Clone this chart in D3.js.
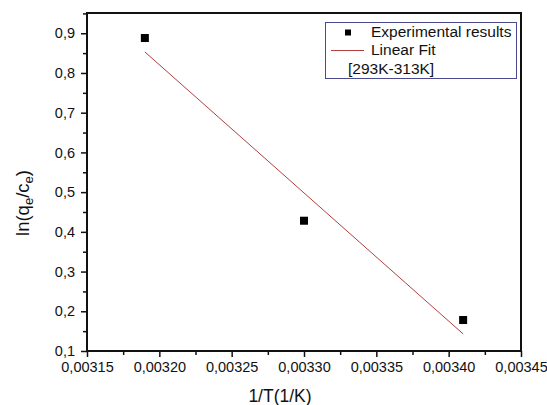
<!DOCTYPE html>
<html>
<head>
<meta charset="utf-8">
<script src="https://cdn.jsdelivr.net/npm/d3@7"></script>
<style>
  html, body { margin: 0; padding: 0; background: #fff; }
  svg { display: block; }
  text { font-family: "Liberation Sans", Arial, sans-serif; fill: #111; }
</style>
</head>
<body>
<svg id="chart" width="547" height="405"></svg>
<script>
// Inverse temperature (1/K) and ln(qe/ce) measured at 313 K, 303 K and 293 K
const invT = [0.00319, 0.00330, 0.00341];
const lnK = [0.888, 0.428, 0.178];

const xTicks = [0.00315, 0.00320, 0.00325, 0.00330, 0.00335, 0.00340, 0.00345];
const yTicks = [0.1, 0.2, 0.3, 0.4, 0.5, 0.6, 0.7, 0.8, 0.9];
const legendLabels = ["Experimental results", "Linear Fit", "[293K-313K]"];

const svg = d3.select("#chart");
const plotLeft = 87, plotRight = 521, plotTop = 13, plotBottom = 351;

const x = d3.scaleLinear().domain([0.00315, 0.00345]).range([plotLeft, plotRight]);
const y = d3.scaleLinear().domain([0.1, 0.951]).range([plotBottom, plotTop]);

const fmtX = d => d3.format(".5f")(d).replace(".", ",");
const fmtY = d => d3.format(".1f")(d).replace(".", ",");

// minor ticks halfway between the major ones
const xMinor = d3.pairs(xTicks).map(([a, b]) => (a + b) / 2);
const yMinor = d3.pairs(yTicks).map(([a, b]) => (a + b) / 2).concat([0.95]);

svg.append("g")
  .attr("transform", `translate(0,${plotBottom})`)
  .call(d3.axisBottom(x).tickValues(xMinor).tickSize(4).tickFormat(""))
  .call(g => g.select(".domain").remove())
  .call(g => g.selectAll("line").attr("stroke", "#111").attr("stroke-width", 1.5));

svg.append("g")
  .attr("transform", `translate(${plotLeft},0)`)
  .call(d3.axisLeft(y).tickValues(yMinor).tickSize(4).tickFormat(""))
  .call(g => g.select(".domain").remove())
  .call(g => g.selectAll("line").attr("stroke", "#111").attr("stroke-width", 1.5));

const xAxis = svg.append("g")
  .attr("transform", `translate(0,${plotBottom})`)
  .call(d3.axisBottom(x).tickValues(xTicks).tickSize(6).tickPadding(5).tickFormat(fmtX));
xAxis.select(".domain").remove();
xAxis.selectAll("line").attr("stroke", "#111").attr("stroke-width", 1.5);
xAxis.selectAll("text").attr("font-size", 14.5).attr("fill", "#111")
  .style("font-family", "'Liberation Sans', Arial, sans-serif");

const yAxis = svg.append("g")
  .attr("transform", `translate(${plotLeft},0)`)
  .call(d3.axisLeft(y).tickValues(yTicks).tickSize(6).tickPadding(6).tickFormat(fmtY));
yAxis.select(".domain").remove();
yAxis.selectAll("line").attr("stroke", "#111").attr("stroke-width", 1.5);
yAxis.selectAll("text").attr("font-size", 14.5).attr("fill", "#111")
  .style("font-family", "'Liberation Sans', Arial, sans-serif");

// plot frame
svg.append("rect")
  .attr("x", plotLeft).attr("y", plotTop)
  .attr("width", plotRight - plotLeft).attr("height", plotBottom - plotTop)
  .attr("fill", "none").attr("stroke", "#111").attr("stroke-width", 2);

// least-squares fit over the measured points
const mx = d3.mean(invT), my = d3.mean(lnK);
const slope = d3.sum(invT, (v, i) => (v - mx) * (lnK[i] - my)) / d3.sum(invT, v => (v - mx) ** 2);
const intercept = my - slope * mx;
const xExt = d3.extent(invT);

svg.append("line")
  .attr("x1", x(xExt[0])).attr("y1", y(slope * xExt[0] + intercept))
  .attr("x2", x(xExt[1])).attr("y2", y(slope * xExt[1] + intercept))
  .attr("stroke", "#b04040").attr("stroke-width", 1);

const size = 8;
svg.selectAll("rect.pt")
  .data(invT.map((v, i) => [v, lnK[i]]))
  .join("rect")
  .attr("class", "pt")
  .attr("x", d => x(d[0]) - size / 2)
  .attr("y", d => y(d[1]) - size / 2)
  .attr("width", size).attr("height", size)
  .attr("fill", "#000");

// axis titles
svg.append("text")
  .attr("x", 280).attr("y", 402)
  .attr("text-anchor", "middle").attr("font-size", 17.5)
  .text("1/T(1/K)");

const yTitle = svg.append("text")
  .attr("transform", "translate(29,203) rotate(-90)")
  .attr("text-anchor", "middle").attr("font-size", 18.5);
yTitle.append("tspan").text("ln(q");
yTitle.append("tspan").attr("font-size", 13).attr("dy", 4).text("e");
yTitle.append("tspan").attr("dy", -4).text("/c");
yTitle.append("tspan").attr("font-size", 13).attr("dy", 4).text("e");
yTitle.append("tspan").attr("dy", -4).text(")");

// legend
const lg = svg.append("g");
lg.append("rect")
  .attr("x", 325.5).attr("y", 22.5).attr("width", 191).attr("height", 56)
  .attr("fill", "#fff").attr("stroke", "#4a4a90").attr("stroke-width", 1);
lg.append("rect")
  .attr("x", 345).attr("y", 29.5).attr("width", 6).attr("height", 6).attr("fill", "#000");
lg.append("line")
  .attr("x1", 331).attr("x2", 364).attr("y1", 50.5).attr("y2", 50.5)
  .attr("stroke", "#b04040").attr("stroke-width", 1);
lg.selectAll("text")
  .data(legendLabels)
  .join("text")
  .attr("x", (d, i) => i < 2 ? 371 : 348)
  .attr("y", (d, i) => 37 + i * 18.3)
  .attr("font-size", 15.5)
  .text(d => d);
</script>
</body>
</html>
